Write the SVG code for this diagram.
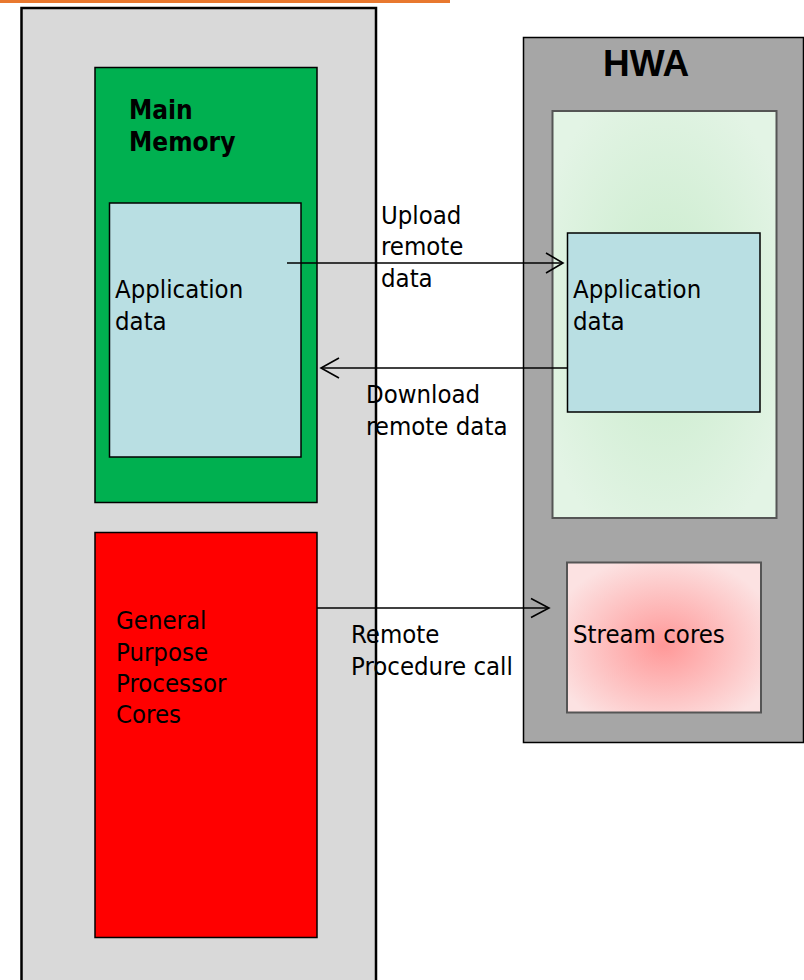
<svg xmlns="http://www.w3.org/2000/svg" width="804" height="980" viewBox="0 0 804 980">
<style>
.t{font-family:"DejaVu Sans Condensed","DejaVu Sans",sans-serif;font-size:25.5px;fill:#000}
.b{font-family:"DejaVu Sans Condensed","DejaVu Sans",sans-serif;font-size:26px;font-weight:bold;fill:#000}
.conn line,.conn polyline{stroke:#000;stroke-width:1.6;fill:none}
</style>
<defs>
<radialGradient id="gg" cx="0.5" cy="0.5" r="0.6">
<stop offset="0" stop-color="#C8EBCB"/>
<stop offset="1" stop-color="#E3F4E5"/>
</radialGradient>
<radialGradient id="rg" cx="0.5" cy="0.55" r="0.6">
<stop offset="0" stop-color="#FF9898"/>
<stop offset="1" stop-color="#FCE2E2"/>
</radialGradient>
</defs>
<rect x="0" y="0" width="804" height="980" fill="#FFFFFF"/>
<rect x="0" y="0" width="450" height="3" fill="#E8782F"/>
<g id="host">
<rect x="21.5" y="8" width="354.5" height="990" fill="#D9D9D9" stroke="#000" stroke-width="2.5"/>
</g>
<g id="main-memory">
<rect x="95" y="67.5" width="222" height="435" fill="#00B050" stroke="#000" stroke-width="1.5"/>
<text class="b" x="129" y="119">Main</text>
<text class="b" x="129" y="151">Memory</text>
</g>
<g id="app-data-left">
<rect x="109.5" y="203" width="191.5" height="254" fill="#B9DFE3" stroke="#000" stroke-width="1.5"/>
<text class="t" x="115" y="298">Application</text>
<text class="t" x="115" y="330">data</text>
</g>
<g id="gpp-cores">
<rect x="95" y="532.5" width="222" height="405" fill="#FF0000" stroke="#000" stroke-width="1.5"/>
<text class="t" x="116" y="629">General</text>
<text class="t" x="116" y="661">Purpose</text>
<text class="t" x="116" y="692">Processor</text>
<text class="t" x="116" y="723">Cores</text>
</g>
<g id="hwa">
<rect x="523.5" y="37.5" width="280" height="705" fill="#A6A6A6" stroke="#000" stroke-width="1.5"/>
<text style="font-family:'Liberation Sans',Arial,sans-serif;font-weight:bold;font-size:37px" x="603" y="76">HWA</text>
</g>
<g id="hwa-memory">
<rect x="552.5" y="111" width="224" height="407" fill="url(#gg)" stroke="#555" stroke-width="2"/>
</g>
<g id="app-data-right">
<rect x="567.5" y="233" width="192.5" height="179" fill="#B9DFE3" stroke="#000" stroke-width="1.5"/>
<text class="t" x="573" y="298">Application</text>
<text class="t" x="573" y="330">data</text>
</g>
<g id="stream-cores">
<rect x="567" y="562.5" width="194" height="150" fill="url(#rg)" stroke="#555" stroke-width="2"/>
<text class="t" x="573" y="643">Stream cores</text>
</g>
<g class="conn" id="connectors">
<line x1="287" y1="263" x2="563" y2="263"/>
<polyline points="546,253 563,263 546,273"/>
<line x1="567" y1="368" x2="321" y2="368"/>
<polyline points="339,358 321,368 339,378"/>
<line x1="317" y1="608" x2="549" y2="608"/>
<polyline points="531,598.5 549,608 531,617.5"/>
</g>
<g id="labels">
<text class="t" x="381" y="224">Upload</text>
<text class="t" x="381" y="255">remote</text>
<text class="t" x="381" y="287">data</text>
<text class="t" x="366" y="403">Download</text>
<text class="t" x="366" y="435">remote data</text>
<text class="t" x="351" y="643">Remote</text>
<text class="t" x="351" y="675">Procedure call</text>
</g>
</svg>
